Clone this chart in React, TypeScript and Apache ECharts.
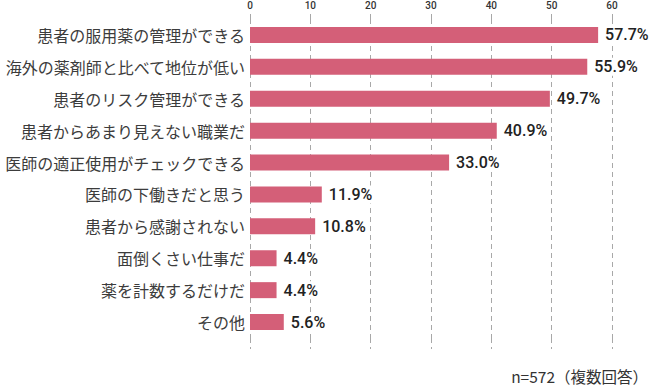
import React, { useEffect, useRef } from "react";
import * as echarts from "echarts";

const categories = [
  "患者の服用薬の管理ができる",
  "海外の薬剤師と比べて地位が低い",
  "患者のリスク管理ができる",
  "患者からあまり見えない職業だ",
  "医師の適正使用がチェックできる",
  "医師の下働きだと思う",
  "患者から感謝されない",
  "面倒くさい仕事だ",
  "薬を計数するだけだ",
  "その他",
];
const values = [57.7, 55.9, 49.7, 40.9, 33.0, 11.9, 10.8, 4.4, 4.4, 5.6];
const axisMin = 0;
const axisMax = 60;
const axisStep = 10;
const footnote = "n=572（複数回答）";

export default function App() {
  const ref = useRef<HTMLDivElement>(null);
  useEffect(() => {
    if (!ref.current) return;
    const chart = echarts.init(ref.current, null, { renderer: "svg" });
    const dash = { color: "#a8a8a8", type: [5, 4] as any, width: 1 };
    chart.setOption({
      animation: false,
      grid: { left: 250, right: 40, top: 19, height: 319 },
      xAxis: [
        {
          type: "value",
          position: "top",
          min: axisMin,
          max: axisMax,
          interval: axisStep,
          axisLine: { show: false },
          axisTick: { show: true, length: 7, lineStyle: dash },
          axisLabel: {
            margin: 9,
            fontSize: 10,
            fontWeight: 500,
            color: "#333",
            fontFamily: "Roboto",
          },
          splitLine: { show: true, lineStyle: dash },
        },
        {
          type: "value",
          position: "bottom",
          min: axisMin,
          max: axisMax,
          interval: axisStep,
          axisLine: { show: false },
          axisTick: { show: true, length: 11, lineStyle: dash },
          axisLabel: { show: false },
          splitLine: { show: false },
        },
      ],
      yAxis: {
        type: "category",
        data: categories,
        inverse: true,
        axisLine: { show: false },
        axisTick: { show: false },
        axisLabel: {
          margin: 5,
          fontSize: 16,
          color: "#3c3c3c",
          fontFamily: "Noto Sans CJK JP",
        },
      },
      series: [
        {
          type: "bar",
          xAxisIndex: 0,
          data: values,
          barWidth: 16,
          itemStyle: { color: "#d45f78" },
          label: {
            show: true,
            position: "right",
            distance: 6,
            formatter: (p: any) => p.value.toFixed(1) + "%",
            fontSize: 16,
            fontWeight: 500,
            color: "#222",
            fontFamily: "Roboto",
            backgroundColor: "#fff",
            padding: [1, 1],
          },
        },
      ],
      graphic: [
        {
          type: "text",
          right: 4,
          top: 368,
          style: {
            text: footnote,
            fontSize: 15.5,
            fill: "#333",
            fontFamily: "Noto Sans CJK JP",
          },
        },
      ],
    });
    return () => chart.dispose();
  }, []);
  return <div ref={ref} style={{ width: 652, height: 386, position: "absolute", left: 0, top: 0 }} />;
}
